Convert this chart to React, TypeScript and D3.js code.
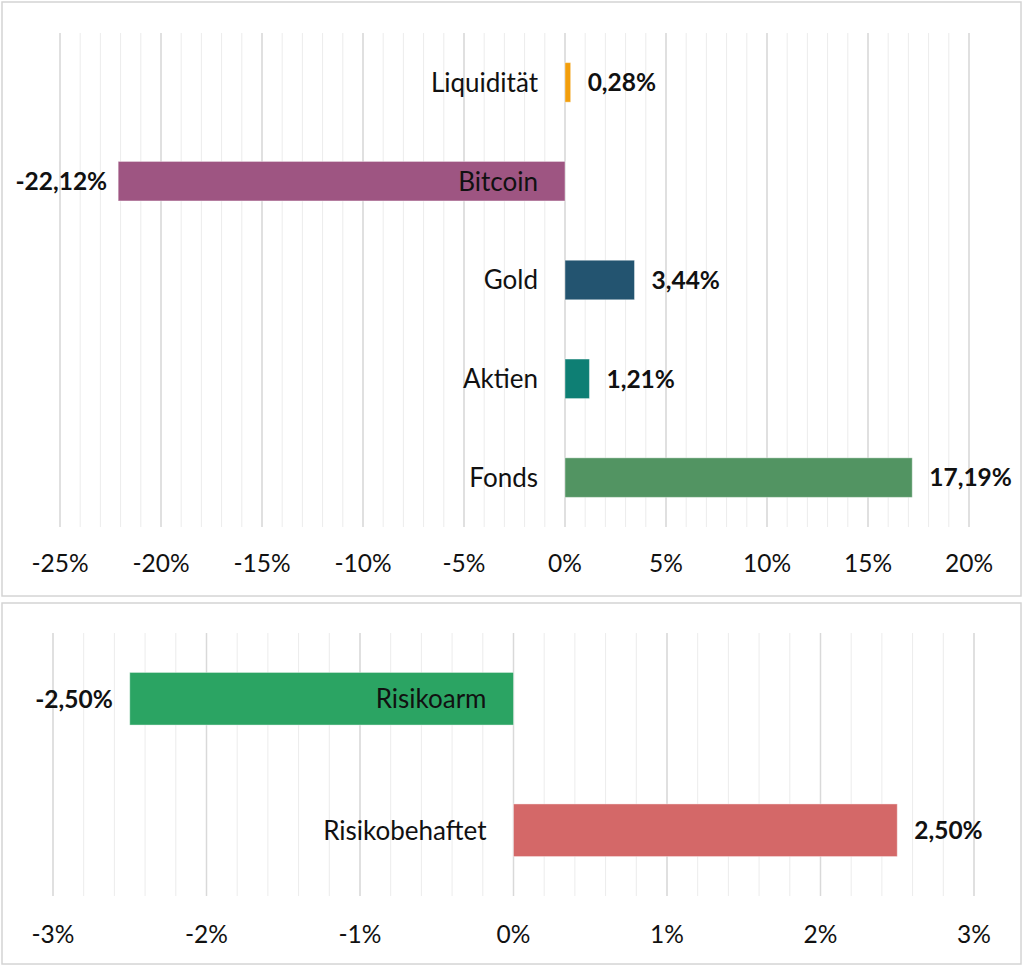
import * as d3 from "d3"
import { useEffect, useRef } from "react"

const FONT = "Lato, 'Open Sans', sans-serif"

const topCategories = ["Liquidität", "Bitcoin", "Gold", "Aktien", "Fonds"]
const topValues = [0.28, -22.12, 3.44, 1.21, 17.19]
const topColors = ["#F29E0C", "#9E5582", "#235470", "#0E7F74", "#529462"]
const topTicks = [-25, -20, -15, -10, -5, 0, 5, 10, 15, 20]

const bottomCategories = ["Risikoarm", "Risikobehaftet"]
const bottomValues = [-2.5, 2.5]
const bottomColors = ["#2BA463", "#D46868"]
const bottomTicks = [-3, -2, -1, 0, 1, 2, 3]

interface Panel {
  categories: string[]
  values: number[]
  colors: string[]
  ticks: number[]
  minorStep: number
  box: { x: number; y: number; w: number; h: number }
  xRange: [number, number]
  yRange: [number, number]
  tickY: number
  negGap: number
}

const panels: Panel[] = [
  {
    categories: topCategories,
    values: topValues,
    colors: topColors,
    ticks: topTicks,
    minorStep: 1,
    box: { x: 2, y: 2, w: 1019, h: 594 },
    xRange: [60, 969],
    yRange: [33, 527],
    tickY: 572,
    negGap: 11,
  },
  {
    categories: bottomCategories,
    values: bottomValues,
    colors: bottomColors,
    ticks: bottomTicks,
    minorStep: 0.2,
    box: { x: 2, y: 603, w: 1019, h: 361 },
    xRange: [53, 974],
    yRange: [633, 896],
    tickY: 943,
    negGap: 17,
  },
]

const fmtValue = (v: number) => v.toFixed(2).replace(".", ",") + "%"

function drawPanel(svg: d3.Selection<SVGSVGElement, unknown, null, undefined>, p: Panel) {
  const g = svg.append("g")

  // panel frame
  g.append("rect")
    .attr("x", p.box.x)
    .attr("y", p.box.y)
    .attr("width", p.box.w)
    .attr("height", p.box.h)
    .attr("fill", "#fff")
    .attr("stroke", "#d4d4d4")
    .attr("stroke-width", 1.5)

  const lo = p.ticks[0]
  const hi = p.ticks[p.ticks.length - 1]
  const x = d3.scaleLinear().domain([lo, hi]).range(p.xRange)
  const y = d3
    .scaleBand()
    .domain(p.categories)
    .range(p.yRange)
    .paddingInner(0.6)
    .paddingOuter(0.3)

  // minor grid
  const nMinor = Math.round((hi - lo) / p.minorStep)
  const minor = d3.range(0, nMinor + 1).map((i) => lo + i * p.minorStep)
  g.append("g")
    .selectAll("line")
    .data(minor)
    .enter()
    .append("line")
    .attr("x1", (d) => x(d))
    .attr("x2", (d) => x(d))
    .attr("y1", p.yRange[0])
    .attr("y2", p.yRange[1])
    .attr("stroke", "#ececec")
    .attr("stroke-width", 1)

  // major grid
  g.append("g")
    .selectAll("line")
    .data(p.ticks)
    .enter()
    .append("line")
    .attr("x1", (d) => x(d))
    .attr("x2", (d) => x(d))
    .attr("y1", p.yRange[0])
    .attr("y2", p.yRange[1])
    .attr("stroke", "#d9d9d9")
    .attr("stroke-width", 1.5)

  // tick labels
  g.append("g")
    .selectAll("text")
    .data(p.ticks)
    .enter()
    .append("text")
    .attr("x", (d) => x(d))
    .attr("y", p.tickY)
    .attr("text-anchor", "middle")
    .style("font-family", FONT)
    .style("font-size", "24.5px")
    .style("fill", "#111")
    .text((d) => `${d}%`)

  const rows = p.categories.map((c, i) => ({ c, v: p.values[i], color: p.colors[i] }))

  // bars
  g.append("g")
    .selectAll("rect")
    .data(rows)
    .enter()
    .append("rect")
    .attr("x", (d) => x(Math.min(0, d.v)))
    .attr("width", (d) => Math.abs(x(d.v) - x(0)))
    .attr("y", (d) => y(d.c)!)
    .attr("height", y.bandwidth())
    .attr("fill", (d) => d.color)
    .attr("stroke", "rgba(255,255,255,0.4)")
    .attr("stroke-width", 1)

  // category labels
  g.append("g")
    .selectAll("text")
    .data(rows)
    .enter()
    .append("text")
    .attr("x", x(0) - 27)
    .attr("y", (d) => y(d.c)! + y.bandwidth() / 2)
    .attr("dy", "0.36em")
    .attr("text-anchor", "end")
    .style("font-family", FONT)
    .style("font-size", "26px")
    .style("fill", "#111")
    .text((d) => d.c)

  // value labels
  g.append("g")
    .selectAll("text")
    .data(rows)
    .enter()
    .append("text")
    .attr("x", (d) => (d.v < 0 ? x(d.v) - p.negGap : x(d.v) + 17))
    .attr("y", (d) => y(d.c)! + y.bandwidth() / 2)
    .attr("dy", "0.36em")
    .attr("text-anchor", (d) => (d.v < 0 ? "end" : "start"))
    .style("font-family", FONT)
    .style("font-size", "24.5px")
    .style("font-weight", "bold")
    .style("fill", "#111")
    .text((d) => fmtValue(d.v))
}

export default function App() {
  const svgRef = useRef<SVGSVGElement | null>(null)

  useEffect(() => {
    if (!svgRef.current) return
    const svg = d3.select(svgRef.current)
    svg.selectAll("*").remove()
    panels.forEach((p) => drawPanel(svg, p))
  }, [])

  return (
    <svg
      ref={svgRef}
      width={1024}
      height={968}
      style={{ position: "absolute", left: 0, top: 0, background: "#fff" }}
      xmlns="http://www.w3.org/2000/svg"
    />
  )
}
